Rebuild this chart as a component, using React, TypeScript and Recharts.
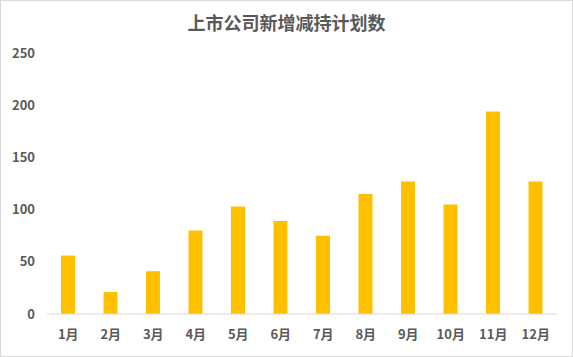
import { BarChart, Bar, XAxis, YAxis } from "recharts";

const months = ["1月", "2月", "3月", "4月", "5月", "6月", "7月", "8月", "9月", "10月", "11月", "12月"];
const plans = [56, 21, 41, 80, 103, 89, 75, 115, 127, 105, 194, 127];
const yTicks = [0, 50, 100, 150, 200, 250];

const data = months.map((m, i) => ({ month: m, value: plans[i] }));

const tickStyle = { fill: "#595959", fontSize: 13, fontWeight: 700, fontFamily: "Noto Sans CJK SC, sans-serif" };

export default function App() {
  return (
    <div
      style={{
        position: "absolute",
        left: 0,
        top: 0,
        width: 571,
        height: 355,
        border: "1px solid #d9d9d9",
        background: "#fff",
      }}
    >
      <div
        style={{
          position: "absolute",
          top: 8,
          width: "100%",
          textAlign: "center",
          fontFamily: "Noto Sans CJK SC, sans-serif",
          fontSize: 18,
          fontWeight: 700,
          color: "#595959",
        }}
      >
        上市公司新增减持计划数
      </div>
      <BarChart width={571} height={355} data={data} margin={{ top: 52, right: 15, left: 0, bottom: 12 }}>
        <XAxis
          dataKey="month"
          tickLine={false}
          axisLine={{ stroke: "#d9d9d9" }}
          tick={tickStyle}
          tickMargin={10}
          height={30}
        />
        <YAxis
          domain={[0, 250]}
          ticks={yTicks}
          axisLine={false}
          tickLine={false}
          tick={tickStyle}
          tickMargin={6}
          width={46}
        />
        <Bar dataKey="value" fill="#FFC000" barSize={14} isAnimationActive={false} />
      </BarChart>
    </div>
  );
}
